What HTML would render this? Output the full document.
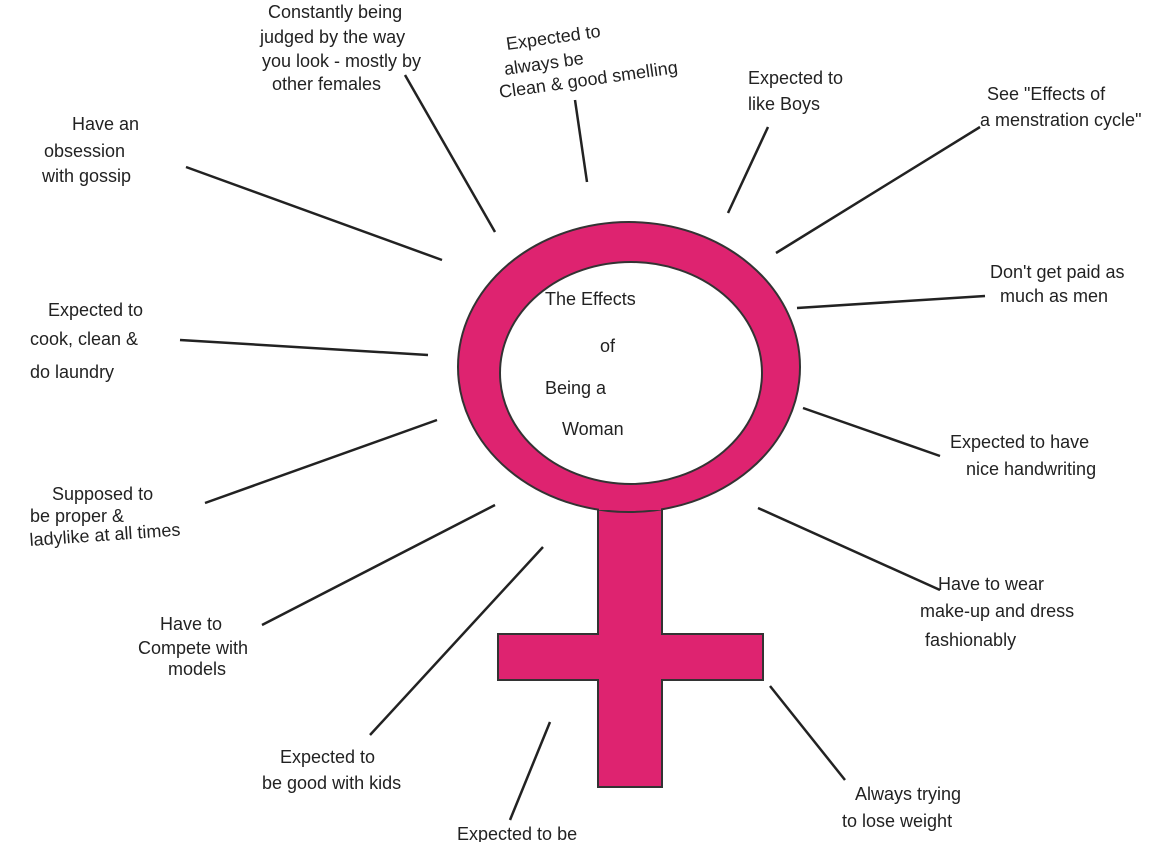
<!DOCTYPE html>
<html><head><meta charset="utf-8"><style>
html,body{margin:0;padding:0;background:#fff;}
svg{display:block;}
text{font-family:"Liberation Sans",sans-serif;fill:#222;font-size:18px;}
</style></head><body>
<svg width="1176" height="842" viewBox="0 0 1176 842" xmlns="http://www.w3.org/2000/svg">
<rect width="1176" height="842" fill="#fff"/>
<g fill="#de2370" stroke="#333" stroke-width="2">
<rect x="598" y="500" width="64" height="287"/>
<rect x="498" y="634" width="265" height="46"/>
<path fill-rule="evenodd" d="M458,367 a171,145 0 1,0 342,0 a171,145 0 1,0 -342,0 Z M500,373 a131,111 0 1,0 262,0 a131,111 0 1,0 -262,0 Z"/>
</g>
<rect x="599" y="633" width="62" height="48" fill="#de2370"/>
<rect x="599" y="500" width="62" height="10" fill="#de2370"/>
<g stroke="#222" stroke-width="2.5" fill="none">
<line x1="186" y1="167" x2="442" y2="260"/>
<line x1="405" y1="75" x2="495" y2="232"/>
<line x1="575" y1="100" x2="587" y2="182"/>
<line x1="768" y1="127" x2="728" y2="213"/>
<line x1="980" y1="127" x2="776" y2="253"/>
<line x1="985" y1="296" x2="797" y2="308"/>
<line x1="180" y1="340" x2="428" y2="355"/>
<line x1="803" y1="408" x2="940" y2="456"/>
<line x1="437" y1="420" x2="205" y2="503"/>
<line x1="758" y1="508" x2="940" y2="590"/>
<line x1="495" y1="505" x2="262" y2="625"/>
<line x1="543" y1="547" x2="370" y2="735"/>
<line x1="770" y1="686" x2="845" y2="780"/>
<line x1="550" y1="722" x2="510" y2="820"/>
</g>
<text x="545" y="305" font-size="26">The Effects</text>
<text x="600" y="352" font-size="21">of</text>
<text x="545" y="394" font-size="25">Being a</text>
<text x="562" y="435" font-size="23">Woman</text>
<text x="72" y="130" font-size="22">Have an</text>
<text x="44" y="157" font-size="19">obsession</text>
<text x="42" y="182" font-size="19">with gossip</text>
<text x="268" y="18" font-size="18">Constantly being</text>
<text x="260" y="43" font-size="18">judged by the way</text>
<text x="262" y="67" font-size="17">you look - mostly by</text>
<text x="272" y="90" font-size="17">other females</text>
<text x="507" y="50" font-size="16" transform="rotate(-8 507 50)">Expected to</text>
<text x="505" y="75" font-size="16" transform="rotate(-8 505 75)">always be</text>
<text x="500" y="98" font-size="16" transform="rotate(-8 500 98)">Clean &amp; good smelling</text>
<text x="748" y="84" font-size="17">Expected to</text>
<text x="748" y="110" font-size="18">like Boys</text>
<text x="987" y="100" font-size="17">See "Effects of</text>
<text x="980" y="126" font-size="17">a menstration cycle"</text>
<text x="990" y="278" font-size="18">Don't get paid as</text>
<text x="1000" y="302" font-size="18">much as men</text>
<text x="48" y="316" font-size="17">Expected to</text>
<text x="30" y="345" font-size="18">cook, clean &amp;</text>
<text x="30" y="378" font-size="18">do laundry</text>
<text x="950" y="448" font-size="18">Expected to have</text>
<text x="966" y="475" font-size="18">nice handwriting</text>
<text x="52" y="500" font-size="16">Supposed to</text>
<text x="30" y="522" font-size="16">be proper &amp;</text>
<text x="30" y="546" font-size="16" transform="rotate(-4 30 546)">ladylike at all times</text>
<text x="938" y="590" font-size="19">Have to wear</text>
<text x="920" y="617" font-size="19">make-up and dress</text>
<text x="925" y="646" font-size="19">fashionably</text>
<text x="160" y="630" font-size="18">Have to</text>
<text x="138" y="654" font-size="18">Compete with</text>
<text x="168" y="675" font-size="18">models</text>
<text x="280" y="763" font-size="17">Expected to</text>
<text x="262" y="789" font-size="17">be good with kids</text>
<text x="855" y="800" font-size="19">Always trying</text>
<text x="842" y="827" font-size="18">to lose weight</text>
<text x="457" y="840" font-size="17">Expected to be</text>
</svg>
</body></html>
